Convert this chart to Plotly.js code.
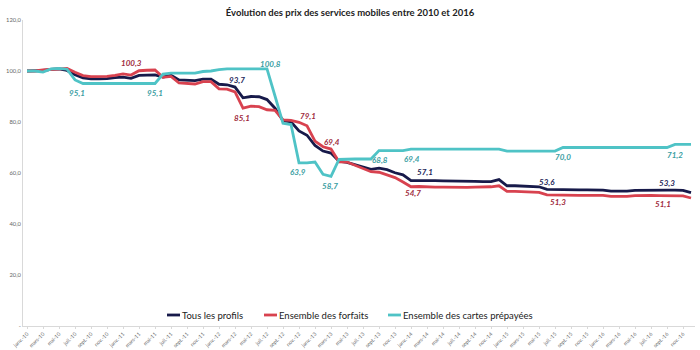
<!DOCTYPE html>
<html>
<head>
<meta charset="utf-8">
<script src="https://cdn.plot.ly/plotly-3.0.1.min.js"></script>
<style>html,body{margin:0;padding:0;background:#fff;}</style>
</head>
<body>
<div id="chart" style="width:700px;height:350px;"></div>
<script>
// Month categories (janv. 2010 -> déc. 2016)
const monthNames = ['janv.','févr.','mars','avr.','mai','juin','juil.','août','sept.','oct.','nov.','déc.'];
const years = ['10','11','12','13','14','15','16'];
const categories = [];
years.forEach(y => monthNames.forEach(m => categories.push(m + '-' + y)));
const tickLabels = categories.filter((c, k) => k % 2 === 0);

const seriesNames = ['Tous les profils', 'Ensemble des forfaits', 'Ensemble des cartes prépayées'];

const tousProfils = [
 100.0,100.0,100.2,100.6,100.8,100.2,98.5,97.3,96.9,96.9,97.0,97.4,
 97.6,97.1,98.3,98.4,98.5,97.6,98.3,96.5,96.3,96.2,96.8,96.8,
 94.8,94.6,93.7,89.5,90.0,89.9,88.8,85.4,80.5,80.1,76.5,74.8,
 70.8,68.6,67.8,64.6,64.2,63.2,62.4,61.4,61.9,61.3,60.1,59.3,
 57.0,57.1,57.1,57.0,56.9,56.9,56.8,56.8,56.7,56.6,56.6,57.4,
 55.0,55.0,54.9,54.8,54.6,53.6,53.5,53.5,53.5,53.4,53.4,53.4,
 53.3,52.9,52.8,52.9,53.2,53.3,53.3,53.3,53.3,53.3,53.2,52.3
];
const forfaits = [
 100.0,100.0,100.4,100.6,100.6,101.0,99.5,98.2,97.8,97.8,97.9,98.3,
 98.9,98.4,100.1,100.3,100.4,97.5,97.9,95.3,95.0,94.9,95.8,95.8,
 93.0,92.9,91.8,85.4,86.2,86.0,84.8,84.6,80.8,80.6,79.9,78.5,
 72.5,70.3,69.4,64.4,64.3,63.0,61.8,60.5,60.3,59.3,58.2,56.5,
 54.6,54.7,54.5,54.5,54.5,54.4,54.4,54.4,54.5,54.5,54.6,55.0,
 52.8,52.8,52.7,52.6,52.4,51.4,51.3,51.3,51.3,51.2,51.2,51.2,
 51.2,50.8,50.7,50.8,51.1,51.2,51.2,51.1,51.1,51.1,51.0,50.2
];
const cartesPrepayees = [
 100.0,100.0,99.6,100.8,101.0,100.7,96.5,95.1,95.1,95.1,95.1,95.1,
 95.1,95.1,95.1,95.1,95.1,98.8,99.2,99.2,99.2,99.2,99.8,100.0,
 100.5,100.8,100.8,100.8,100.8,100.8,100.8,90.2,79.5,79.0,64.0,64.0,
 64.3,59.5,58.7,65.3,65.5,65.5,65.5,65.5,68.8,68.8,68.8,68.8,
 69.4,69.4,69.4,69.4,69.4,69.4,69.4,69.4,69.4,69.4,69.4,69.4,
 68.6,68.6,68.6,68.6,68.6,68.6,68.6,70.0,70.0,70.0,70.0,70.0,
 70.0,70.0,70.0,70.0,70.0,70.0,70.0,70.0,70.0,71.2,71.2,71.2
];

// Value labels shown on the chart
const labelsTous = ['93,7','57,1','53,6','53,3'];
const labelsForfaits = ['100,3','85,1','79,1','69,4','54,7','51,3','51,1'];
const labelsCartes = ['95,1','95,1','100,8','63,9','58,7','68,8','69,4','70,0','71,2'];

const yTickVals = [0,20,40,60,80,100,120];
const yTickText = ['-','20,0','40,0','60,0','80,0','100,0','120,0'];

const colors = ['#171a4a', '#d8424f', '#4fc3c6'];
const labelColors = ['#23265a', '#9e2a3c', '#3a9ea2'];
const FONT = 'Lato, "Open Sans", sans-serif';

const traces = [tousProfils, forfaits, cartesPrepayees].map((vals, k) => ({
  type: 'scatter', mode: 'lines', name: seriesNames[k],
  x: categories, y: vals,
  line: {color: colors[k], width: 2.8},
  showlegend: false, hoverinfo: 'skip'
}));

// label placement (category index, y in data units)
const pos = {
  tous: [[26.3,96.5],[49.7,60.4],[65.0,56.5],[80.0,56.1]],
  forf: [[13.1,103.1],[26.9,81.6],[35.1,82.4],[38.1,72.2],[48.2,52.2],[66.4,48.6],[79.5,47.8]],
  cart: [[6.3,91.4],[16.0,91.4],[30.4,102.7],[33.9,60.4],[37.9,54.9],[44.1,65.1],[48.1,65.5],[67.0,66.3],[81.0,67.1]]
};
const annotations = [];
function addLabels(texts, p, col) {
  texts.forEach((t, k) => annotations.push({
    x: p[k][0], y: p[k][1], xref: 'x', yref: 'y', text: '<b><i>' + t + '</i></b>',
    showarrow: false, font: {family: FONT, size: 8, color: col}, xanchor: 'center', yanchor: 'middle'
  }));
}
addLabels(labelsTous, pos.tous, labelColors[0]);
addLabels(labelsForfaits, pos.forf, labelColors[1]);
addLabels(labelsCartes, pos.cart, labelColors[2]);

// custom legend (pixel -> paper)
const L = 23, R = 695, T = 20, B = 326;
const px = x => (x - L) / (R - L);
const py = y => (B - y) / (B - T);
const legendX = [167, 264, 388];
const shapes = [];
legendX.forEach((x0, k) => {
  shapes.push({type: 'line', xref: 'paper', yref: 'paper', x0: px(x0), x1: px(x0 + 13), y0: py(315), y1: py(315),
    line: {color: colors[k], width: 2.8}});
  annotations.push({xref: 'paper', yref: 'paper', x: px(x0 + 13), y: py(315), xanchor: 'left', yanchor: 'middle',
    text: seriesNames[k], showarrow: false, font: {family: FONT, size: 9.5, color: '#222'}});
});

const layout = {
  width: 700, height: 350,
  margin: {l: L, r: 700 - R, t: T, b: 350 - B},
  paper_bgcolor: '#fff', plot_bgcolor: '#fff',
  title: {text: '<b>Évolution des prix des services mobiles entre 2010 et 2016</b>',
    font: {family: FONT, size: 9.5, color: '#222'}, x: 0.5, xanchor: 'center', y: 0.965, yanchor: 'middle'},
  xaxis: {
    type: 'category', range: [-0.5, categories.length - 0.5],
    tickmode: 'array', tickvals: tickLabels, ticktext: tickLabels,
    tickangle: -45, tickfont: {family: FONT, size: 5.2, color: '#666'},
    showline: true, linecolor: '#d9d9d9', linewidth: 1,
    ticks: 'outside', ticklen: 2, tickcolor: '#d9d9d9', ticklabelstandoff: 0,
    showgrid: false, zeroline: false, automargin: false, fixedrange: true
  },
  yaxis: {
    range: [0, 120], tickmode: 'array', tickvals: yTickVals, ticktext: yTickText,
    tickfont: {family: FONT, size: 5.8, color: '#666'},
    showline: true, linecolor: '#d9d9d9', linewidth: 1,
    showgrid: false, zeroline: false, ticks: '', automargin: false, fixedrange: true
  },
  annotations: annotations,
  shapes: shapes,
  showlegend: false
};

Plotly.newPlot('chart', traces, layout, {staticPlot: true, displayModeBar: false});
</script>
</body>
</html>
